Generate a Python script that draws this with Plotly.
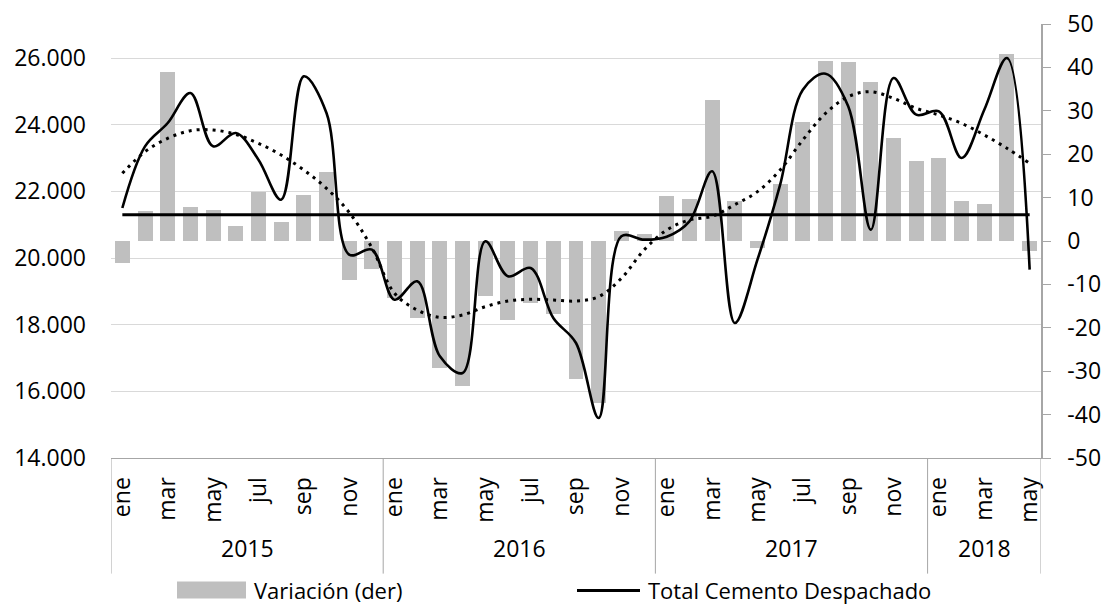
import plotly.graph_objects as go

# ---------------- data ----------------
month_names = ["ene", "feb", "mar", "abr", "may", "jun", "jul", "ago", "sep", "oct", "nov", "dic"]
months = month_names * 3 + month_names[:5]
years = ["2015"] * 12 + ["2016"] * 12 + ["2017"] * 12 + ["2018"] * 5

variacion = [
    -5.0, 6.9, 39.0, 7.8, 7.2, 3.5, 11.3, 4.3, 10.5, 15.8, -9.0, -6.5,
    -13.1, -17.7, -29.3, -33.5, -12.7, -18.2, -14.2, -16.9, -31.7, -37.3, 2.2, 1.5,
    10.3, 9.7, 32.6, 9.2, -1.7, 13.1, 27.5, 41.5, 41.3, 36.7, 23.8, 18.5,
    19.1, 9.3, 8.5, 43.0, -2.2,
]

total = [
    21500, 23350, 24050, 24950, 23350, 23750, 22950, 21750, 25450, 24350, 20100, 20250,
    18750, 19300, 17050, 16550, 20500, 19450, 19700, 18200, 17450, 15200, 20650, 20550,
    20640, 21100, 22600, 18050, 19950, 22200, 25050, 25530, 24550, 20850, 25400, 24300,
    24400, 23000, 24450, 26000, 19650,
]

tendencia = [
    22540, 23190, 23590, 23820, 23840, 23710, 23440, 23090, 22640, 22090, 21370, 20310,
    18940, 18440, 18220, 18290, 18540, 18710, 18760, 18740, 18710, 18840, 19390, 20240,
    20840, 21140, 21250, 21600, 21990, 22640, 23540, 24340, 24840, 24990, 24790, 24490,
    24290, 24040, 23690, 23290, 22840,
]

promedio = 21300

left_tickvals = [14000, 16000, 18000, 20000, 22000, 24000, 26000]
left_ticktext = ["14.000", "16.000", "18.000", "20.000", "22.000", "24.000", "26.000"]
right_tickvals = [-50, -40, -30, -20, -10, 0, 10, 20, 30, 40, 50]
right_ticktext = ["-50", "-40", "-30", "-20", "-10", "0", "10", "20", "30", "40", "50"]

legend_bar_text = "Variación (der)"
legend_line_text = "Total Cemento Despachado"

# ---------------- figure ----------------
FONT = "Open Sans"
FS = 23
TXT = "#000000"
AXC = "#a6a6a6"

x = list(range(len(months)))

fig = go.Figure()

fig.add_trace(go.Bar(
    x=x, y=variacion, yaxis="y", width=0.66,
    marker=dict(color="#bfbfbf", line=dict(width=0)),
    name=legend_bar_text, showlegend=False,
))

fig.add_trace(go.Scatter(
    x=x, y=[promedio] * len(x), yaxis="y2", mode="lines",
    line=dict(color="#000000", width=3), showlegend=False,
))

fig.add_trace(go.Scatter(
    x=x, y=tendencia, yaxis="y2", mode="lines",
    line=dict(color="#000000", width=3, dash="3px,5px", shape="spline", smoothing=1.0),
    showlegend=False,
))

fig.add_trace(go.Scatter(
    x=x, y=total, yaxis="y2", mode="lines",
    line=dict(color="#000000", width=2.6, shape="spline", smoothing=1.0),
    name=legend_line_text, showlegend=False,
))

# plot area geometry (px)
L, R, T, B = 111, 1041, 24, 458.3
W, H = 1102, 605
ph = B - T


def py(ypix):
    return (B - ypix) / ph


def px(xpix):
    return (xpix - L) / (R - L)


# year group labels and dividers
groups = []
for i, yv in enumerate(years):
    if not groups or groups[-1][0] != yv:
        groups.append([yv, i, i])
    else:
        groups[-1][2] = i

shapes = []
annotations = []
for name, a, b in groups:
    annotations.append(dict(
        x=(a + b) / 2, y=py(548), xref="x", yref="paper", text=name, showarrow=False,
        font=dict(family=FONT, size=FS, color=TXT), xanchor="center", yanchor="middle",
    ))
    shapes.append(dict(type="line", xref="x", yref="paper", x0=a - 0.5, x1=a - 0.5,
                       y0=0, y1=py(574), line=dict(color=AXC, width=1)))
shapes.append(dict(type="line", xref="x", yref="paper", x0=len(x) - 0.5, x1=len(x) - 0.5,
                   y0=0, y1=py(574), line=dict(color=AXC, width=1)))

# manual legend
LEG_Y = 590
shapes.append(dict(type="rect", xref="paper", yref="paper",
                   x0=px(177), x1=px(246), y0=py(LEG_Y - 8), y1=py(LEG_Y + 9),
                   fillcolor="#bfbfbf", line=dict(width=0)))
annotations.append(dict(x=px(252), y=py(LEG_Y), xref="paper", yref="paper", text=legend_bar_text,
                        showarrow=False, xanchor="left", yanchor="middle",
                        font=dict(family=FONT, size=22, color=TXT)))
shapes.append(dict(type="line", xref="paper", yref="paper",
                   x0=px(577), x1=px(640), y0=py(LEG_Y + 1), y1=py(LEG_Y + 1),
                   line=dict(color="#000000", width=3)))
annotations.append(dict(x=px(646), y=py(LEG_Y), xref="paper", yref="paper", text=legend_line_text,
                        showarrow=False, xanchor="left", yanchor="middle",
                        font=dict(family=FONT, size=22, color=TXT)))

fig.update_layout(
    width=W, height=H,
    margin=dict(l=L, r=W - R, t=T, b=H - B, autoexpand=False),
    paper_bgcolor="white", plot_bgcolor="white",
    font=dict(family=FONT, size=FS, color=TXT),
    showlegend=False,
    bargap=0,
    xaxis=dict(
        range=[-0.5, len(x) - 0.5],
        tickmode="array", tickvals=x[::2], ticktext=months[::2],
        tickangle=-90, ticks="", showgrid=False, zeroline=False,
        showline=True, linecolor=AXC, linewidth=1,
        tickfont=dict(family=FONT, size=FS, color=TXT),
        ticklabelstandoff=9,
    ),
    yaxis=dict(
        side="right", range=[-50, 50],
        tickmode="array", tickvals=right_tickvals, ticktext=right_ticktext,
        showgrid=False, zeroline=False,
        showline=True, linecolor=AXC, linewidth=1.5,
        ticks="outside", ticklen=8, tickcolor=AXC, tickwidth=1,
        tickfont=dict(family=FONT, size=FS, color=TXT),
        ticklabelstandoff=12,
    ),
    yaxis2=dict(
        side="left", overlaying="y", range=[14000, 27020],
        tickmode="array", tickvals=left_tickvals, ticktext=left_ticktext,
        showgrid=True, gridcolor="#d9d9d9", gridwidth=1, zeroline=False,
        showline=False, ticks="",
        tickfont=dict(family=FONT, size=FS, color=TXT),
        ticklabelstandoff=24,
    ),
    shapes=shapes,
    annotations=annotations,
)

fig.write_html(
    "out.html",
    config={"displayModeBar": False},
    post_script="document.body.style.margin='0px';document.body.style.overflow='hidden';",
)
